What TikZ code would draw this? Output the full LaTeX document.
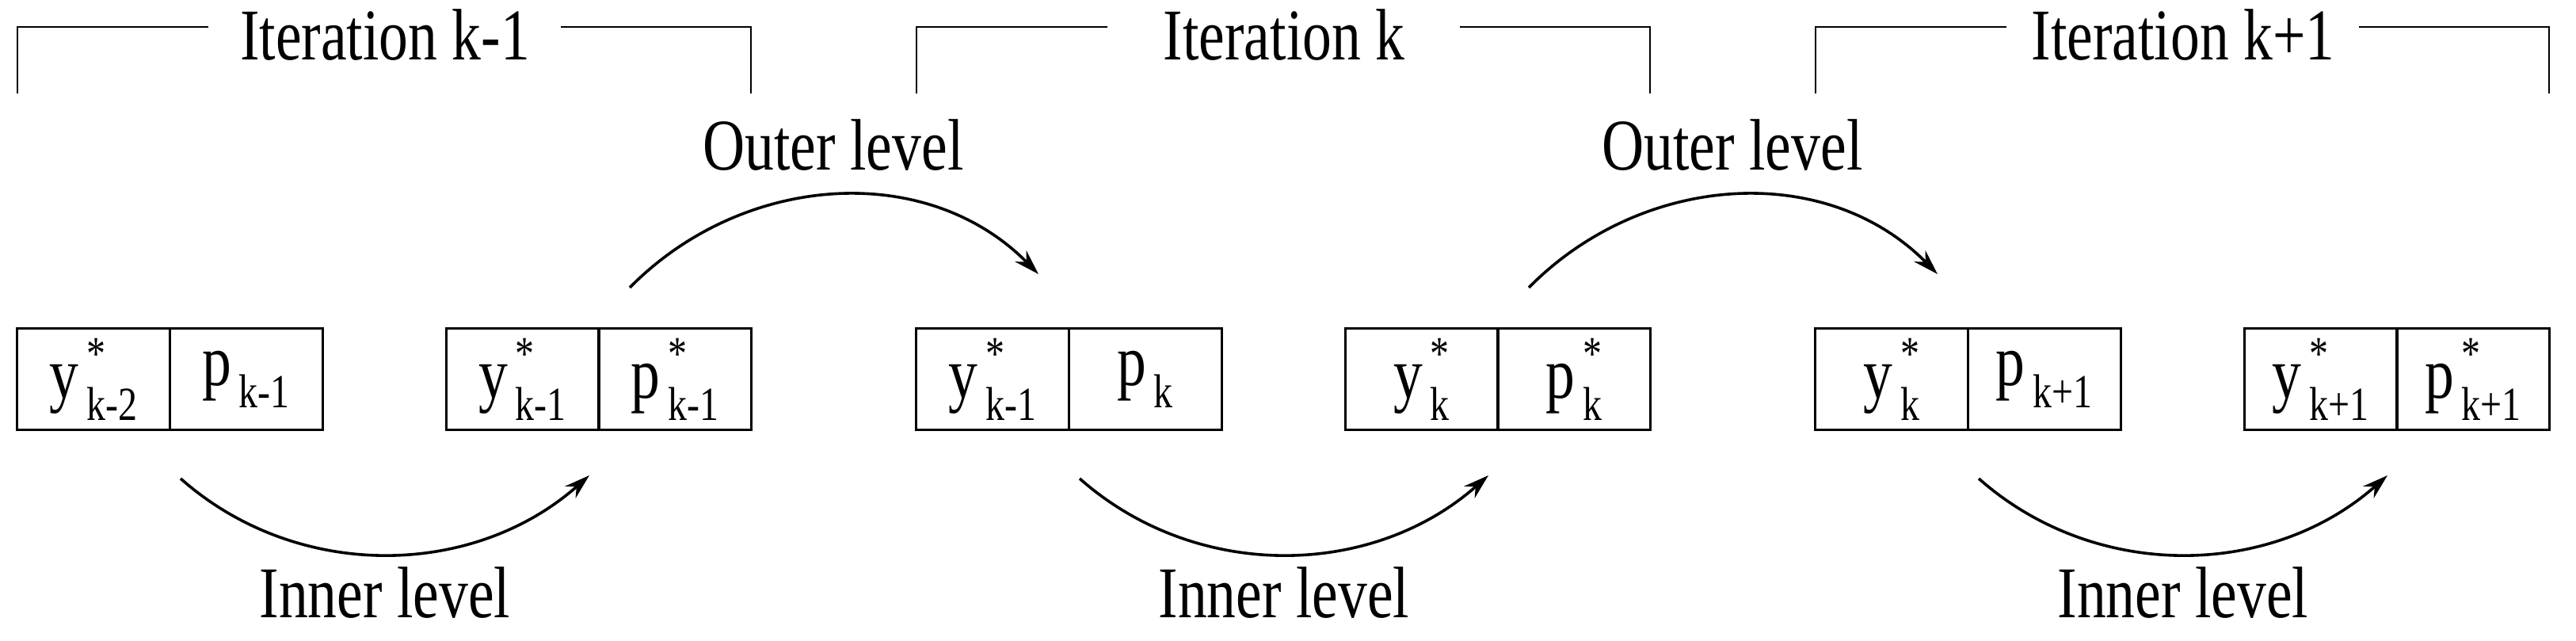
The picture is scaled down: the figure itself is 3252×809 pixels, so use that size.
\documentclass[tikz,border=0pt]{standalone}
\usepackage{fontspec}
\setmainfont{Liberation Serif}[FakeStretch=0.8]
\usetikzlibrary{arrows.meta}
\newcommand\subfnt{\fontsize{15}{15}\selectfont}
\newcommand\cellt[3]{#1\makebox[0pt][l]{\raisebox{9pt}{\subfnt\,#3}}\raisebox{-7pt}{\subfnt\,#2}}
\begin{document}
\begin{tikzpicture}[x=0.25pt,y=-0.25pt,
  cell/.style={draw,line width=0.75pt,minimum width=48.25pt,minimum height=32pt,inner sep=0pt,font=\fontsize{23}{23}\selectfont},
  lab/.style={font=\fontsize{23}{23}\selectfont,inner sep=0pt,anchor=base},
  brk/.style={line width=0.6pt},
  arc/.style={line width=0.9pt,-{Stealth[length=8pt,width=5pt]}}]
\useasboundingbox (0,0) rectangle (3252,809);
\foreach \i/\A/\B/\C/\D/\T in {
 0/k-2/k-1/k-1/k-1/Iteration k-1,
 1/k-1/k/k/k/Iteration k,
 2/k/k+1/k+1/k+1/Iteration k+1}{
  \pgfmathsetmacro\o{1135*\i}
  \node[cell] (a\i) at (\o+118,479) {\cellt{y}{\A}{*}};
  \node[cell] (b\i) at (\o+310.5,479) {\cellt{p}{\B}{}};
  \node[cell] (c\i) at (\o+659.5,479) {\cellt{y}{\C}{*}};
  \node[cell] (d\i) at (\o+852,479) {\cellt{p}{\D}{*}};
  \node[lab] (t\i) at (\o+486,76) {\T};
  \node[lab] (in\i) at (\o+486,780) {Inner level};
  \coordinate (bl\i) at (\o+22,118);
  \coordinate (tl\i) at (\o+22,34);
  \coordinate (gl\i) at (\o+263,34);
  \coordinate (gr\i) at (\o+708,34);
  \coordinate (tr\i) at (\o+948,34);
  \coordinate (br\i) at (\o+948,118);
  \draw[brk] (bl\i) -- (tl\i) -- (gl\i);
  \draw[brk] (gr\i) -- (tr\i) -- (br\i);
  \coordinate (is\i) at (\o+228,604);
  \coordinate (ie\i) at (\o+744,600);
  \draw[arc] (is\i) .. controls (\o+375,734) and (\o+597,730) .. (ie\i);
}
\foreach \i in {0,1}{
  \pgfmathsetmacro\o{1135*\i}
  \node[lab] (out\i) at (\o+1052,215) {Outer level};
  \coordinate (os\i) at (\o+795,363);
  \coordinate (oe\i) at (\o+1311,346);
  \draw[arc] (os\i) .. controls (\o+937,219) and (\o+1169,202) .. (oe\i);
}
\end{tikzpicture}
\end{document}
